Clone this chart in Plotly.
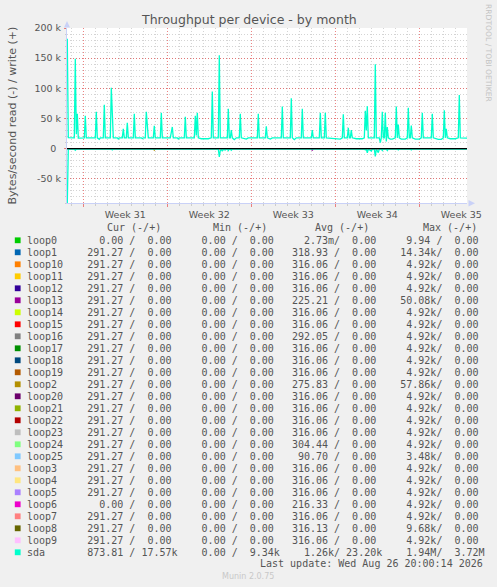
import plotly.graph_objects as go

# ---------------- data ----------------
sda_write_time = [
    "2026-07-25 14:00", "2026-07-25 16:00", "2026-07-25 18:00", "2026-07-26 06:00", "2026-07-26 08:00", "2026-07-26 10:00",
    "2026-07-26 12:00", "2026-07-26 14:00", "2026-07-27 02:00", "2026-07-27 04:00", "2026-07-27 06:00",
    "2026-07-28 00:00", "2026-07-28 02:00", "2026-07-28 04:00", "2026-07-28 08:00", "2026-07-28 10:00",
    "2026-07-28 16:00", "2026-07-28 18:00", "2026-07-28 20:00", "2026-07-29 06:00", "2026-07-29 08:00",
    "2026-07-29 10:00", "2026-07-29 12:00", "2026-07-29 20:00", "2026-07-29 22:00", "2026-07-30 00:00",
    "2026-07-30 06:00", "2026-07-30 08:00", "2026-07-30 10:00", "2026-07-30 14:00", "2026-07-30 16:00",
    "2026-07-30 18:00", "2026-07-31 04:00", "2026-07-31 06:00", "2026-07-31 08:00", "2026-07-31 20:00",
    "2026-07-31 22:00", "2026-08-01 00:00", "2026-08-01 04:00", "2026-08-01 06:00", "2026-08-01 08:00",
    "2026-08-01 10:00", "2026-08-01 20:00", "2026-08-01 22:00", "2026-08-02 00:00", "2026-08-02 10:00",
    "2026-08-02 12:00", "2026-08-02 14:00", "2026-08-03 06:00", "2026-08-03 08:00", "2026-08-03 10:00",
    "2026-08-03 12:00", "2026-08-03 20:00", "2026-08-03 22:00", "2026-08-04 00:00", "2026-08-04 10:00",
    "2026-08-04 12:00", "2026-08-04 14:00", "2026-08-05 06:00", "2026-08-05 08:00", "2026-08-05 10:00",
    "2026-08-05 12:00", "2026-08-05 14:00", "2026-08-05 20:00", "2026-08-06 10:00", "2026-08-06 16:00",
    "2026-08-06 18:00", "2026-08-06 20:00", "2026-08-07 06:00", "2026-08-07 08:00", "2026-08-07 10:00",
    "2026-08-08 00:00", "2026-08-08 02:00", "2026-08-08 04:00", "2026-08-08 06:00", "2026-08-08 08:00",
    "2026-08-08 10:00", "2026-08-08 14:00", "2026-08-08 18:00", "2026-08-09 00:00", "2026-08-09 02:00",
    "2026-08-09 04:00", "2026-08-09 14:00", "2026-08-09 18:00", "2026-08-10 12:00", "2026-08-10 14:00",
    "2026-08-10 16:00", "2026-08-11 04:00", "2026-08-11 06:00", "2026-08-11 08:00", "2026-08-11 14:00",
    "2026-08-11 18:00", "2026-08-12 12:00", "2026-08-12 14:00", "2026-08-12 16:00", "2026-08-13 06:00",
    "2026-08-13 08:00", "2026-08-13 10:00", "2026-08-13 14:00", "2026-08-13 18:00", "2026-08-14 04:00",
    "2026-08-14 06:00", "2026-08-14 08:00", "2026-08-15 00:00", "2026-08-15 02:00", "2026-08-15 04:00",
    "2026-08-15 16:00", "2026-08-15 18:00", "2026-08-15 20:00", "2026-08-16 02:00", "2026-08-16 04:00",
    "2026-08-16 06:00", "2026-08-17 00:00", "2026-08-17 10:00", "2026-08-17 14:00", "2026-08-17 16:00",
    "2026-08-17 18:00", "2026-08-18 00:00", "2026-08-18 02:00", "2026-08-18 04:00", "2026-08-18 06:00",
    "2026-08-18 08:00", "2026-08-18 10:00", "2026-08-18 18:00", "2026-08-19 06:00", "2026-08-19 10:00",
    "2026-08-19 12:00", "2026-08-19 14:00", "2026-08-19 16:00", "2026-08-19 18:00", "2026-08-20 06:00",
    "2026-08-20 08:00", "2026-08-20 10:00", "2026-08-20 16:00", "2026-08-20 18:00", "2026-08-20 20:00",
    "2026-08-20 22:00", "2026-08-21 00:00", "2026-08-21 02:00", "2026-08-21 04:00", "2026-08-21 06:00",
    "2026-08-21 08:00", "2026-08-21 10:00", "2026-08-21 14:00", "2026-08-21 18:00", "2026-08-22 00:00",
    "2026-08-22 02:00", "2026-08-22 04:00", "2026-08-22 06:00", "2026-08-22 08:00", "2026-08-22 12:00",
    "2026-08-22 20:00", "2026-08-23 00:00", "2026-08-23 02:00", "2026-08-23 04:00", "2026-08-23 06:00",
    "2026-08-23 08:00", "2026-08-23 10:00", "2026-08-23 16:00", "2026-08-24 00:00", "2026-08-24 04:00",
    "2026-08-24 06:00", "2026-08-24 08:00", "2026-08-25 00:00", "2026-08-25 02:00", "2026-08-25 04:00",
    "2026-08-25 14:00", "2026-08-25 20:00", "2026-08-26 00:00", "2026-08-26 02:00", "2026-08-26 04:00",
    "2026-08-26 06:00", "2026-08-26 08:00", "2026-08-26 14:00", "2026-08-27 00:00", "2026-08-27 06:00",
    "2026-08-27 08:00", "2026-08-27 10:00", "2026-08-28 00:00",
]
sda_write = [
    181000, 181000, 18500, 18000, 149000, 24000,
    58000, 17500, 18000, 54500, 18000,
    18000, 61000, 18000, 15500, 18000,
    18000, 72700, 18000, 18000, 101000,
    49000, 18000, 18000, 16000, 18000,
    18000, 33000, 18000, 18000, 43000,
    18000, 18000, 58000, 18000, 18000,
    16500, 18000, 18000, 61000, 38000,
    18000, 18000, 38000, 18000, 18000,
    59500, 18000, 18000, 30000, 36000,
    18000, 18000, 16000, 18000, 18000,
    53000, 18000, 18000, 54500, 22000,
    59500, 18000, 16500, 16500, 18000,
    94700, 18000, 18000, 155000, 18000,
    18000, 66000, 18000, 18000, 31000,
    18000, 15000, 18000, 18000, 58000,
    18000, 16000, 18000, 18000, 58000,
    18000, 18000, 37000, 18000, 16000,
    18000, 18000, 70000, 18000, 18000,
    83700, 18000, 15000, 18000, 18000,
    66000, 18000, 18000, 31000, 18000,
    18000, 59500, 18000, 18000, 59500,
    18000, 16000, 16000, 18000, 57000,
    18000, 18000, 34700, 18000, 18000,
    31000, 18000, 16500, 16500, 18000,
    62800, 30000, 70500, 18000, 18000,
    140000, 18000, 18000, 10000, 18000,
    61000, 18000, 18000, 59500, 12000,
    36000, 18000, 16000, 16000, 18000,
    70000, 18000, 40000, 18000, 16000,
    16000, 18000, 67800, 18000, 18000,
    38500, 18000, 16000, 16000, 18000,
    59500, 18000, 18000, 58000, 18000,
    15500, 15500, 18000, 63500, 18000,
    33000, 18000, 16500, 16500, 18000,
    89000, 18000, 17600,
]

sda_read_time = [
    "2026-07-25 14:00", "2026-07-25 16:00", "2026-07-25 18:00", "2026-07-26 06:00", "2026-07-26 08:00", "2026-07-26 10:00",
    "2026-07-29 08:00", "2026-07-29 10:00", "2026-07-29 12:00", "2026-07-30 14:00", "2026-07-30 16:00",
    "2026-07-30 18:00", "2026-08-07 06:00", "2026-08-07 08:00", "2026-08-07 10:00", "2026-08-07 12:00",
    "2026-08-07 14:00", "2026-08-07 16:00", "2026-08-07 20:00", "2026-08-07 22:00", "2026-08-08 00:00",
    "2026-08-08 02:00", "2026-08-08 04:00", "2026-08-08 06:00", "2026-08-08 08:00", "2026-08-08 10:00",
    "2026-08-13 06:00", "2026-08-13 08:00", "2026-08-13 10:00", "2026-08-14 04:00", "2026-08-14 06:00",
    "2026-08-14 08:00", "2026-08-19 10:00", "2026-08-19 12:00", "2026-08-19 14:00", "2026-08-19 16:00",
    "2026-08-19 18:00", "2026-08-20 00:00", "2026-08-20 02:00", "2026-08-20 06:00", "2026-08-20 08:00",
    "2026-08-20 10:00", "2026-08-20 14:00", "2026-08-20 16:00", "2026-08-20 20:00", "2026-08-20 22:00",
    "2026-08-21 00:00", "2026-08-21 06:00", "2026-08-21 08:00", "2026-08-21 10:00", "2026-08-22 04:00",
    "2026-08-22 06:00", "2026-08-22 08:00", "2026-08-23 06:00", "2026-08-23 08:00", "2026-08-23 10:00",
    "2026-08-28 00:00",
]
sda_read = [
    -90000, -90000, -500, -500, -2500, -500,
    -500, -2000, -500, -500, -1500,
    -500, -500, -13700, -3000, -1000,
    -4000, -1000, -2000, -500, -500,
    -3000, -500, -500, -2500, -500,
    -500, -1500, -500, -500, -1500,
    -500, -500, -2000, -500, -7000,
    -500, -4000, -500, -500, -12700,
    -500, -6600, -500, -500, -3000,
    -500, -500, -3000, -500, -500,
    -2000, -500, -500, -2000, -500,
    -500,
]

loop2_read_time = ["2026-07-25 16:00", "2026-08-01 20:00", "2026-08-01 22:00", "2026-08-02 00:00", "2026-08-28 00:00"]
loop2_read = [0, 0, -2500, 0, 0]
loop13_read_time = ["2026-07-25 16:00", "2026-08-15 00:00", "2026-08-15 02:00", "2026-08-15 04:00", "2026-08-28 00:00"]
loop13_read = [0, 0, -3000, 0, 0]

# legend table
labels = ["loop0", "loop1", "loop10", "loop11", "loop12", "loop13", "loop14", "loop15", "loop16",
          "loop17", "loop18", "loop19", "loop2", "loop20", "loop21", "loop22", "loop23", "loop24",
          "loop25", "loop3", "loop4", "loop5", "loop6", "loop7", "loop8", "loop9", "sda"]
colors = ["#00CC00", "#0066B3", "#FF8000", "#FFCC00", "#330099", "#990099", "#CCFF00", "#FF0000",
          "#808080", "#008F00", "#00487D", "#B35A00", "#B38F00", "#6B006B", "#8FB300", "#B30000",
          "#BEBEBE", "#80FF80", "#80C9FF", "#FFC080", "#FFE680", "#AA80FF", "#EE00CC", "#FF8080",
          "#666600", "#FFBFFF", "#00FFCC"]
cur_read = [0, 291.27, 291.27, 291.27, 291.27, 291.27, 291.27, 291.27, 291.27, 291.27, 291.27,
            291.27, 291.27, 291.27, 291.27, 291.27, 291.27, 291.27, 291.27, 291.27, 291.27,
            291.27, 0, 291.27, 291.27, 291.27, 873.81]
cur_write = [0] * 26 + [17570]
min_read = [0] * 27
min_write = [0] * 26 + [9340]
avg_read = [0.00273, 318.93, 316.06, 316.06, 316.06, 225.21, 316.06, 316.06, 292.05, 316.06,
            316.06, 316.06, 275.83, 316.06, 316.06, 316.06, 316.06, 304.44, 90.70, 316.06,
            316.06, 316.06, 216.33, 316.06, 316.13, 316.06, 1260]
avg_write = [0] * 26 + [23200]
max_read = [9.94, 14340, 4920, 4920, 4920, 50080, 4920, 4920, 4920, 4920, 4920, 4920, 57860,
            4920, 4920, 4920, 4920, 4920, 3480, 4920, 4920, 4920, 4920, 4920, 9680, 4920, 1940000]
max_write = [0] * 26 + [3720000]

y_tickvals = [-50000, 0, 50000, 100000, 150000, 200000]
y_ticktext = ["-50 k", "0\u2002", "50 k", "100 k", "150 k", "200 k"]

# ---------------- layout geometry ----------------
W, H = 497, 587
L, T, PW, PH = 67, 28, 400, 175
TXT = "#555555"
MONO = "DejaVu Sans Mono"
SANS = "DejaVu Sans"


def px(x):
    return (x - L) / PW


def py(y):
    return (T + PH - y) / PH


def si(v):
    if v == 0:
        return f"{0:6.2f}", " "
    a = abs(v)
    if a >= 1e6:
        return f"{v/1e6:6.2f}", "M"
    if a >= 1e3:
        return f"{v/1e3:6.2f}", "k"
    if a < 1:
        return f"{v*1e3:6.2f}", "m"
    return f"{v:6.2f}", " "


def field(r, w):
    a, pa = si(r)
    b, pb = si(w)
    return f"{a}{pa}/{b}{pb}"


fig = go.Figure()

fig.add_trace(go.Scatter(x=loop2_read_time, y=loop2_read, mode="lines",
                         line=dict(color=colors[12], width=1.2), hoverinfo="skip"))
fig.add_trace(go.Scatter(x=loop13_read_time, y=loop13_read, mode="lines",
                         line=dict(color=colors[5], width=1.2), hoverinfo="skip"))
fig.add_trace(go.Scatter(x=sda_read_time, y=sda_read, mode="lines",
                         line=dict(color=colors[26], width=1.3), hoverinfo="skip"))
fig.add_trace(go.Scatter(x=sda_write_time, y=sda_write, mode="lines",
                         line=dict(color=colors[26], width=1.3), hoverinfo="skip"))

MAJ = "rgba(230,80,80,0.7)"
MIN = "rgba(160,160,160,0.45)"
AX = "#C9D1F7"

fig.update_xaxes(
    type="date",
    range=["2026-07-25 15:24", "2026-08-27 23:24"],
    tick0="2026-07-27", dtick=7 * 86400000,
    ticklabelmode="period", tickformat="Week %V",
    showgrid=True, gridcolor=MAJ, griddash="1px,2px", gridwidth=1,
    ticks="outside", ticklen=3, tickcolor=MAJ,
    showline=True, linecolor=AX, linewidth=1,
    zeroline=False, layer="below traces",
    tickfont=dict(family=SANS, size=9.5, color=TXT),
    minor=dict(dtick=86400000, tick0="2026-07-27", showgrid=True, gridcolor=MIN,
               griddash="1px,2px", ticks="outside", ticklen=2, tickcolor=MIN),
)
fig.update_yaxes(
    range=[-90000, 200000],
    tickvals=y_tickvals, ticktext=y_ticktext,
    showgrid=True, gridcolor=MAJ, griddash="1px,2px", gridwidth=1,
    ticks="outside", ticklen=2, tickcolor=MAJ,
    showline=True, linecolor=AX, linewidth=1,
    zeroline=False, layer="below traces",
    tickfont=dict(family=SANS, size=9.5, color=TXT),
    ticklabelstandoff=1,
    minor=dict(dtick=10000, showgrid=True, gridcolor=MIN, griddash="1px,2px",
               ticks="outside", ticklen=1, tickcolor=MIN),
)

shapes = [
    # zero rule
    dict(type="line", xref="paper", yref="y", x0=0, x1=1, y0=0, y1=0,
         line=dict(color="#000000", width=1.3), layer="above"),
    # axis arrows
    dict(type="path", xref="paper", yref="paper",
         path=f"M {px(64)} {py(27.5)} L {px(70)} {py(27.5)} L {px(67)} {py(21)} Z",
         fillcolor=AX, line=dict(width=0)),
    dict(type="path", xref="paper", yref="paper",
         path=f"M {px(468.5)} {py(200)} L {px(468.5)} {py(206.6)} L {px(475)} {py(203.3)} Z",
         fillcolor=AX, line=dict(width=0)),
]

annotations = [
    dict(text="Throughput per device - by month", x=px(248.5), y=py(20), xref="paper", yref="paper",
         xanchor="center", yanchor="middle", showarrow=False,
         font=dict(family=SANS, size=12.5, color=TXT)),
    dict(text="Bytes/second read (-) / write (+)", x=px(11.5), y=py(116), xref="paper", yref="paper",
         xanchor="center", yanchor="middle", showarrow=False, textangle=-90,
         font=dict(family=SANS, size=11, color=TXT)),
    dict(text="RRDTOOL / TOBI OETIKER", x=px(488.5), y=py(53.5), xref="paper", yref="paper",
         xanchor="center", yanchor="middle", showarrow=False, textangle=90,
         font=dict(family=SANS, size=7.6, color="#C4C4C4")),
]

headers = ["Cur (-/+)", "Min (-/+)", "Avg (-/+)", "Max (-/+)"]
header_x = [107.3, 212.7, 314.7, 422.7]
for h, hx in zip(headers, header_x):
    annotations.append(dict(text=h.replace(" ", "\u00a0"), x=px(hx - 2), y=py(227.5), xref="paper",
                            yref="paper", xanchor="left", yanchor="middle", showarrow=False,
                            font=dict(family=MONO, size=10, color=TXT)))

ROW0, ROWH = 240.3, 12
for i, lab in enumerate(labels):
    yc = ROW0 + i * ROWH
    row = (lab.ljust(10) + field(cur_read[i], cur_write[i]) + "  " + field(min_read[i], min_write[i])
           + "  " + field(avg_read[i], avg_write[i]) + "  " + field(max_read[i], max_write[i]))
    annotations.append(dict(text=row.replace(" ", "\u00a0"), x=px(24.8), y=py(yc), xref="paper",
                            yref="paper", xanchor="left", yanchor="middle", showarrow=False,
                            font=dict(family=MONO, size=10, color=TXT)))
    shapes.append(dict(type="rect", xref="paper", yref="paper",
                       x0=px(14.8), x1=px(20.6), y0=py(yc + 2.9), y1=py(yc - 2.9),
                       fillcolor=colors[i], line=dict(width=0)))

annotations.append(dict(text="Last update: Wed Aug 26 20:00:14 2026".replace(" ", "\u00a0"),
                        x=px(485), y=py(563.5), xref="paper", yref="paper", xanchor="right",
                        yanchor="middle", showarrow=False, font=dict(family=MONO, size=10, color=TXT)))
annotations.append(dict(text="Munin 2.0.75", x=px(248), y=py(576.5), xref="paper", yref="paper",
                        xanchor="center", yanchor="middle", showarrow=False,
                        font=dict(family=SANS, size=8, color="#C8C8C8")))

fig.update_layout(
    width=W, height=H,
    margin=dict(l=L, r=W - L - PW, t=T, b=H - T - PH, pad=0),
    paper_bgcolor="#F0F0F0", plot_bgcolor="#FFFFFF",
    showlegend=False,
    shapes=shapes, annotations=annotations,
)

fig.write_html(
    "out.html",
    config={"displayModeBar": False},
    post_script="document.body.style.margin='0';document.body.style.overflow='hidden';",
)
